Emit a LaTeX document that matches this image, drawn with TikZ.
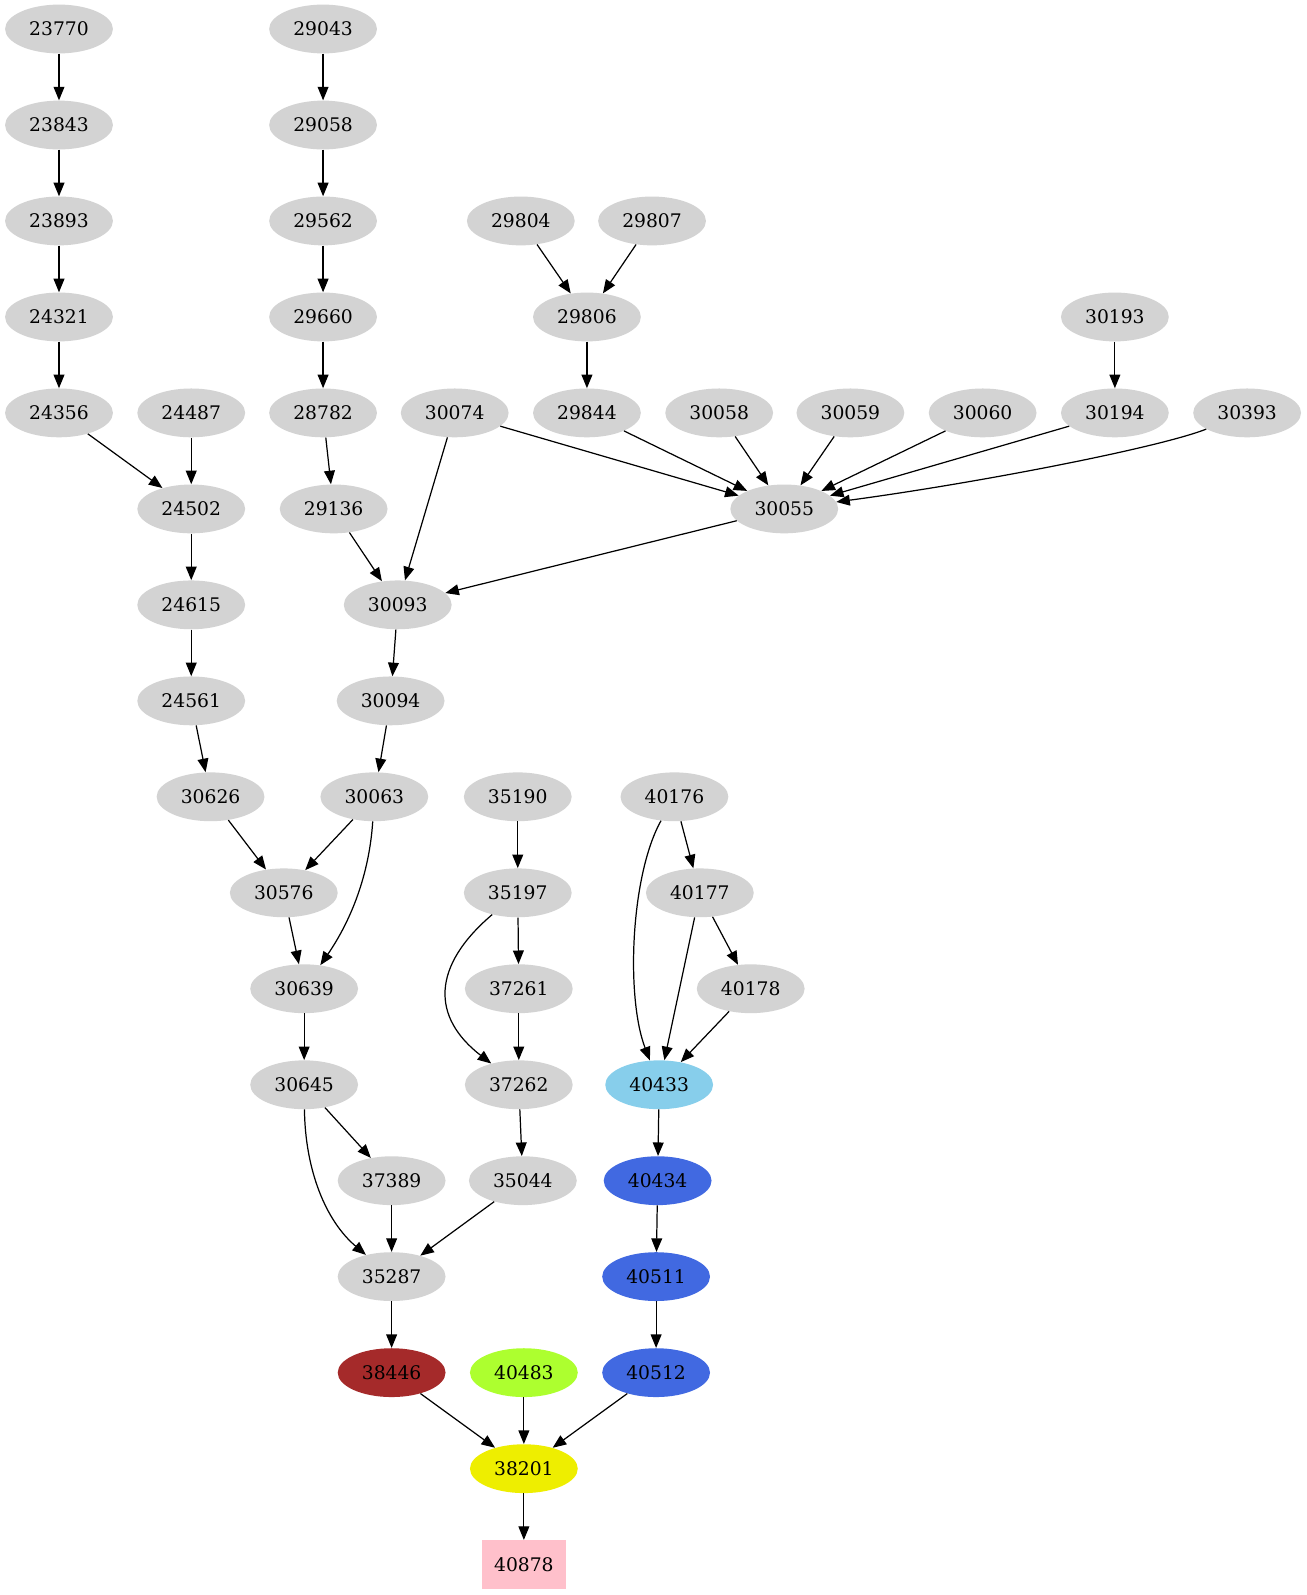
\documentclass[tikz,border=0pt]{standalone}
\usepackage{fontspec}
\setmainfont{DejaVu Serif}
\usetikzlibrary{shapes.geometric,arrows.meta}
\definecolor{gv}{RGB}{211,211,211}
\definecolor{gvbrown}{RGB}{165,42,42}
\definecolor{gvgreen}{RGB}{173,255,47}
\definecolor{gvblue}{RGB}{65,105,225}
\definecolor{gvsky}{RGB}{135,206,235}
\definecolor{gvyellow}{RGB}{238,238,0}
\definecolor{gvpink}{RGB}{255,192,203}
\tikzset{
  nd/.style={ellipse, fill=gv, draw=none, minimum width=79.5pt, minimum height=36pt, inner sep=0pt, font=\fontsize{13.8}{16}\selectfont},
  bx/.style={rectangle, fill=gvpink, draw=none, minimum width=62pt, minimum height=36pt, inner sep=0pt, font=\fontsize{13.8}{16}\selectfont},
  ed/.style={-{Triangle[length=10pt,width=8pt]}, line width=0.9pt, black}
}
\begin{document}
\begin{tikzpicture}[x=0.75pt,y=-0.75pt]
\useasboundingbox (0,0) rectangle (1284,1568);
% rows: 28.5 + 94.35 k
% column 1
\node[nd] (n23770) at (58,28.5) {23770};
\node[nd] (n23843) at (58,122.9) {23843};
\node[nd] (n23893) at (58,217.2) {23893};
\node[nd] (n24321) at (58,311.6) {24321};
\node[nd] (n24356) at (58,405.9) {24356};
\node[nd] (n24487) at (188,405.9) {24487};
\node[nd] (n24502) at (188,500.3) {24502};
\node[nd] (n24615) at (188,594.6) {24615};
\node[nd] (n24561) at (188,689) {24561};
\node[nd] (n30626) at (207,783.3) {30626};
% column 2
\node[nd] (n29043) at (317.6,28.5) {29043};
\node[nd] (n29058) at (317.6,122.9) {29058};
\node[nd] (n29562) at (317.6,217.2) {29562};
\node[nd] (n29660) at (317.6,311.6) {29660};
\node[nd] (n28782) at (317.6,405.9) {28782};
\node[nd] (n29136) at (328,500.3) {29136};
\node[nd] (n30093) at (391,594.6) {30093};
\node[nd] (n30094) at (384,689) {30094};
\node[nd] (n30063) at (368,783.3) {30063};
\node[nd] (n30576) at (279,877.7) {30576};
\node[nd] (n30639) at (299,972) {30639};
\node[nd] (n30645) at (299,1066.4) {30645};
\node[nd] (n37389) at (385,1160.7) {37389};
\node[nd] (n35287) at (385,1255) {35287};
\node[nd, fill=gvbrown] (n38446) at (385,1349.4) {38446};
\node[nd, fill=gvgreen] (n40483) at (515,1349.4) {40483};
\node[nd, fill=gvyellow] (n38201) at (515,1443.8) {38201};
\node[bx] (n40878) at (515,1538.1) {40878};
% top right
\node[nd] (n29804) at (512,217.2) {29804};
\node[nd] (n29807) at (641,217.2) {29807};
\node[nd] (n29806) at (577,311.6) {29806};
\node[nd] (n30193) at (1096,311.6) {30193};
\node[nd] (n30074) at (447,405.9) {30074};
\node[nd] (n29844) at (577,405.9) {29844};
\node[nd] (n30058) at (707,405.9) {30058};
\node[nd] (n30059) at (836,405.9) {30059};
\node[nd] (n30060) at (966,405.9) {30060};
\node[nd] (n30194) at (1096,405.9) {30194};
\node[nd] (n30393) at (1226,405.9) {30393};
\node[nd] (n30055) at (771,500.3) {30055};
% middle
\node[nd] (n35190) at (509,783.3) {35190};
\node[nd] (n35197) at (509,877.7) {35197};
\node[nd] (n37261) at (510,972) {37261};
\node[nd] (n37262) at (510,1066.4) {37262};
\node[nd] (n35044) at (514,1160.7) {35044};
% right
\node[nd] (n40176) at (663,783.3) {40176};
\node[nd] (n40177) at (688,877.7) {40177};
\node[nd] (n40178) at (738,972) {40178};
\node[nd, fill=gvsky] (n40433) at (648,1066.4) {40433};
\node[nd, fill=gvblue] (n40434) at (646.5,1160.7) {40434};
\node[nd, fill=gvblue] (n40511) at (645,1255) {40511};
\node[nd, fill=gvblue] (n40512) at (645,1349.4) {40512};
% edges
\draw[ed] (n23770) -- (n23843);
\draw[ed] (n23843) -- (n23893);
\draw[ed] (n23893) -- (n24321);
\draw[ed] (n24321) -- (n24356);
\draw[ed] (n24356) -- (n24502);
\draw[ed] (n24487) -- (n24502);
\draw[ed] (n24502) -- (n24615);
\draw[ed] (n24615) -- (n24561);
\draw[ed] (n24561) -- (n30626);
\draw[ed] (n30626) -- (n30576);
\draw[ed] (n30063) -- (n30576);
\draw[ed] (n30063) .. controls (363,860) and (345,905) .. (n30639);
\draw[ed] (n30576) -- (n30639);
\draw[ed] (n30639) -- (n30645);
\draw[ed] (n30645) -- (n37389);
\draw[ed] (n30645) .. controls (300,1150) and (320,1200) .. (n35287);
\draw[ed] (n37389) -- (n35287);
\draw[ed] (n35044) -- (n35287);
\draw[ed] (n35287) -- (n38446);
\draw[ed] (n38446) -- (n38201);
\draw[ed] (n40483) -- (n38201);
\draw[ed] (n40512) -- (n38201);
\draw[ed] (n38201) -- (n40878);
\draw[ed] (n29043) -- (n29058);
\draw[ed] (n29058) -- (n29562);
\draw[ed] (n29562) -- (n29660);
\draw[ed] (n29660) -- (n28782);
\draw[ed] (n28782) -- (n29136);
\draw[ed] (n29136) -- (n30093);
\draw[ed] (n30074) -- (n30093);
\draw[ed] (n30055) -- (n30093);
\draw[ed] (n30093) -- (n30094);
\draw[ed] (n30094) -- (n30063);
\draw[ed] (n29804) -- (n29806);
\draw[ed] (n29807) -- (n29806);
\draw[ed] (n29806) -- (n29844);
\draw[ed] (n29844) -- (n30055);
\draw[ed] (n30074) -- (n30055);
\draw[ed] (n30058) -- (n30055);
\draw[ed] (n30059) -- (n30055);
\draw[ed] (n30060) -- (n30055);
\draw[ed] (n30193) -- (n30194);
\draw[ed] (n30194) -- (n30055);
\draw[ed] (n30393) .. controls (1140,440) and (960,475) .. (n30055);
\draw[ed] (n35190) -- (n35197);
\draw[ed] (n35197) -- (n37261);
\draw[ed] (n35197) .. controls (424,950) and (424,1000) .. (n37262);
\draw[ed] (n37261) -- (n37262);
\draw[ed] (n37262) -- (n35044);
\draw[ed] (n40176) -- (n40177);
\draw[ed] (n40176) .. controls (620,860) and (615,980) .. (n40433);
\draw[ed] (n40177) -- (n40178);
\draw[ed] (n40177) -- (n40433);
\draw[ed] (n40178) -- (n40433);
\draw[ed] (n40433) -- (n40434);
\draw[ed] (n40434) -- (n40511);
\draw[ed] (n40511) -- (n40512);
\end{tikzpicture}
\end{document}
